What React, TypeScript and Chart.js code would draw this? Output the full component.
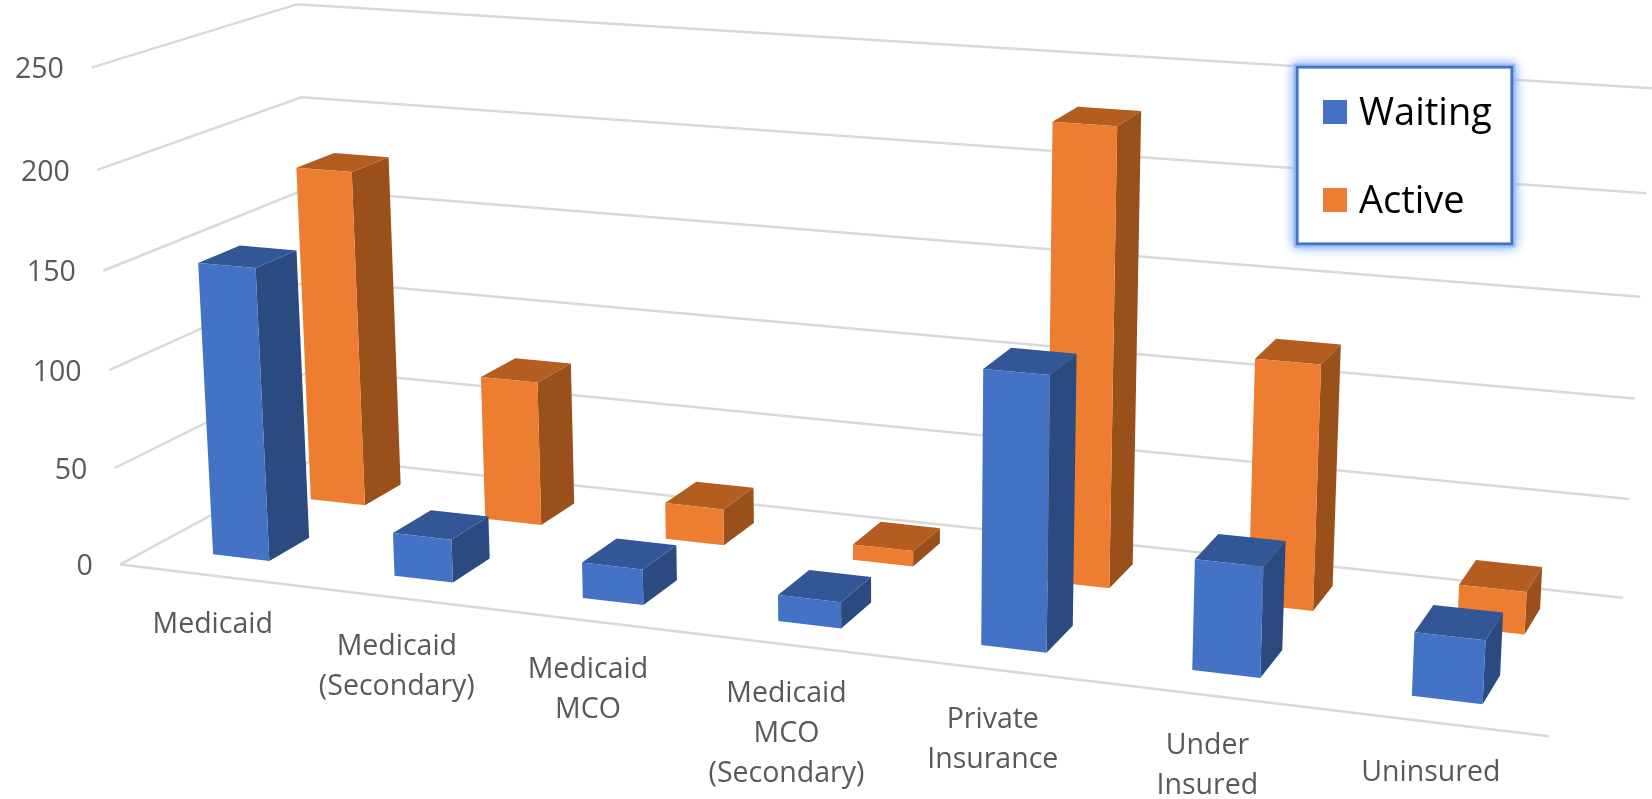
import React, { useEffect, useRef } from "react";
import { Chart, registerables } from "chart.js";

Chart.register(...registerables);

const categories: string[][] = [
  ["Medicaid"],
  ["Medicaid", "(Secondary)"],
  ["Medicaid", "MCO"],
  ["Medicaid", "MCO", "(Secondary)"],
  ["Private", "Insurance"],
  ["Under", "Insured"],
  ["Uninsured"],
];
const waiting = [150, 22, 18, 13, 133, 53, 30];
const active = [178, 76, 19, 8, 229, 122, 21];
const seriesNames = ["Waiting", "Active"];
const yMax = 250;
const yStep = 50;

const FONT = '"Open Sans", sans-serif';
const W = 1652;
const H = 799;

// Camera calibration: unit box (along, depth, up) -> screen
const calibration: number[][] = [
  [0, 0, 0, 120, 564],
  [1, 0, 0, 1549, 736],
  [1, 1, 0, 1623, 598],
  [0, 1, 0, 318, 458],
  [0, 0, 1, 92, 68],
  [0, 1, 1, 297, 4],
  [1, 1, 1, 1652, 88],
  [1, 1, 0.8, 1646, 193],
  [1, 1, 0.6, 1640, 297],
  [0, 1, 0.8, 301, 97],
  [0, 0, 0.8, 98, 170],
  [0, 0, 0.6, 103, 271],
  [0, 0, 0.2, 114, 468],
];

function solveCamera(pts: number[][]): number[] {
  const n = 11;
  const A: number[][] = Array.from({ length: n }, () => new Array(n + 1).fill(0));
  const add = (row: number[], rhs: number) => {
    for (let i = 0; i < n; i++) {
      for (let j = 0; j < n; j++) A[i][j] += row[i] * row[j];
      A[i][n] += row[i] * rhs;
    }
  };
  for (const [x, y, z, u0, v0] of pts) {
    const u = u0 / 1000;
    const v = v0 / 1000;
    add([x, y, z, 1, 0, 0, 0, 0, -u * x, -u * y, -u * z], u);
    add([0, 0, 0, 0, x, y, z, 1, -v * x, -v * y, -v * z], v);
  }
  for (let c = 0; c < n; c++) {
    let p = c;
    for (let r = c + 1; r < n; r++) if (Math.abs(A[r][c]) > Math.abs(A[p][c])) p = r;
    [A[c], A[p]] = [A[p], A[c]];
    for (let r = 0; r < n; r++) {
      if (r === c) continue;
      const f = A[r][c] / A[c][c];
      for (let k = c; k <= n; k++) A[r][k] -= f * A[c][k];
    }
  }
  return A.map((row, i) => row[n] / row[i]);
}
const cam = solveCamera(calibration);
function project(x: number, y: number, z: number): [number, number] {
  const d = cam[8] * x + cam[9] * y + cam[10] * z + 1;
  return [
    (1000 * (cam[0] * x + cam[1] * y + cam[2] * z + cam[3])) / d,
    (1000 * (cam[4] * x + cam[5] * y + cam[6] * z + cam[7])) / d,
  ];
}

const seriesDepth = [
  [0.15, 0.352],
  [0.65, 0.85],
];
const seriesColors = [
  { front: "#4472C4", side: "#2A4A80", top: "#335796" },
  { front: "#ED7D31", side: "#99501B", top: "#B35D20" },
];

function quad(ctx: CanvasRenderingContext2D, pts: [number, number][], color: string) {
  ctx.beginPath();
  pts.forEach(([a, b], i) => (i ? ctx.lineTo(a, b) : ctx.moveTo(a, b)));
  ctx.closePath();
  ctx.fillStyle = color;
  ctx.fill();
}

const scene3d = {
  id: "scene3d",
  beforeDatasetsDraw(chart: any) {
    const ctx: CanvasRenderingContext2D = chart.ctx;
    const area = chart.chartArea;
    const xs = chart.scales.x;
    const ys = chart.scales.y;
    const toZ = (px: number) => (area.bottom - px) / area.height;
    const toX = (px: number) => (px - area.left) / area.width;

    // walls / gridlines
    ctx.save();
    ctx.strokeStyle = "#D9D9D9";
    ctx.lineWidth = 2.5;
    ctx.lineJoin = "miter";
    for (const t of ys.ticks) {
      const z = toZ(ys.getPixelForValue(t.value));
      const pts = [project(0, 0, z), project(0, 1, z), project(1, 1, z)];
      ctx.beginPath();
      pts.forEach(([a, b], i) => (i ? ctx.lineTo(a, b) : ctx.moveTo(a, b)));
      ctx.stroke();
    }
    const f0 = project(0, 0, 0);
    const f1 = project(1, 0, 0);
    ctx.beginPath();
    ctx.moveTo(f0[0], f0[1]);
    ctx.lineTo(f1[0], f1[1]);
    ctx.stroke();

    // y tick labels
    ctx.fillStyle = "#595959";
    ctx.font = `28.5px ${FONT}`;
    ctx.textAlign = "right";
    ctx.textBaseline = "middle";
    for (const t of ys.ticks) {
      const z = toZ(ys.getPixelForValue(t.value));
      const [a, b] = project(0, 0, z);
      ctx.fillText(String(t.label), a - 27.5, b + 2.5);
    }

    // x tick labels
    ctx.textAlign = "center";
    const lineH = 40;
    xs.ticks.forEach((_t: any, i: number) => {
      const x = toX(xs.getPixelForValue(i));
      const [a, b] = project(x, 0, -0.098);
      const lines = chart.data.labels[i] as string[];
      lines.forEach((ln, k) => ctx.fillText(ln, a, b + 2 - i * 0.6 + k * lineH));
    });

    // bars: back row first
    for (let ds = chart.data.datasets.length - 1; ds >= 0; ds--) {
      const meta = chart.getDatasetMeta(ds);
      const [y0, y1] = seriesDepth[ds];
      const c = seriesColors[ds];
      meta.data.forEach((el: any) => {
        const x0 = toX(el.x - el.width / 2);
        const x1 = toX(el.x + el.width / 2);
        const z = toZ(el.y);
        const zb = toZ(el.base);
        quad(ctx, [project(x1, y0, zb), project(x1, y1, zb), project(x1, y1, z), project(x1, y0, z)], c.side);
        quad(ctx, [project(x0, y0, z), project(x1, y0, z), project(x1, y1, z), project(x0, y1, z)], c.top);
        quad(ctx, [project(x0, y0, zb), project(x1, y0, zb), project(x1, y0, z), project(x0, y0, z)], c.front);
      });
    }
    ctx.restore();
    return false;
  },
  afterDraw(chart: any) {
    const ctx: CanvasRenderingContext2D = chart.ctx;
    ctx.save();
    // legend box with glow
    ctx.shadowColor = "rgba(125,170,245,0.9)";
    ctx.shadowBlur = 11;
    ctx.fillStyle = "#FFFFFF";
    ctx.fillRect(1297, 67, 215, 177);
    ctx.strokeStyle = "#9CBFF4";
    ctx.lineWidth = 7;
    ctx.strokeRect(1297, 67, 215, 177);
    ctx.shadowBlur = 0;
    ctx.shadowColor = "transparent";
    ctx.strokeStyle = "#4472C4";
    ctx.lineWidth = 2.5;
    ctx.strokeRect(1297, 67, 215, 177);
    ctx.fillStyle = "#FFFFFF";
    ctx.fillRect(1299, 69, 211, 173);
    const rows = [112, 200];
    chart.data.datasets.forEach((d: any, i: number) => {
      ctx.fillStyle = d.backgroundColor;
      ctx.fillRect(1323, rows[i] - 12, 24, 24);
      ctx.fillStyle = "#000000";
      ctx.font = `38px ${FONT}`;
      ctx.textAlign = "left";
      ctx.textBaseline = "middle";
      ctx.fillText(d.label, 1359, rows[i] + 2);
    });
    ctx.restore();
  },
};

export default function App() {
  const ref = useRef<HTMLCanvasElement | null>(null);
  useEffect(() => {
    document.body.style.margin = "0";
    document.body.style.overflow = "hidden";
    const chart = new Chart(ref.current as HTMLCanvasElement, {
      type: "bar",
      data: {
        labels: categories as any,
        datasets: [
          { label: seriesNames[0], data: waiting, backgroundColor: seriesColors[0].front },
          { label: seriesNames[1], data: active, backgroundColor: seriesColors[1].front },
        ],
      },
      options: {
        animation: false,
        responsive: false,
        devicePixelRatio: 1,
        layout: { padding: { left: 120, right: 103, top: 68, bottom: 235 } },
        datasets: { bar: { grouped: false, categoryPercentage: 1, barPercentage: 0.314 } },
        plugins: { legend: { display: false }, tooltip: { enabled: false }, title: { display: false } },
        scales: {
          x: { display: false },
          y: { display: false, min: 0, max: yMax, ticks: { stepSize: yStep } },
        },
      } as any,
      plugins: [scene3d as any],
    });
    return () => chart.destroy();
  }, []);
  return (
    <div style={{ position: "absolute", left: 0, top: 0, width: W, height: H }}>
      <canvas ref={ref} width={W} height={H} style={{ display: "block" }} />
    </div>
  );
}
